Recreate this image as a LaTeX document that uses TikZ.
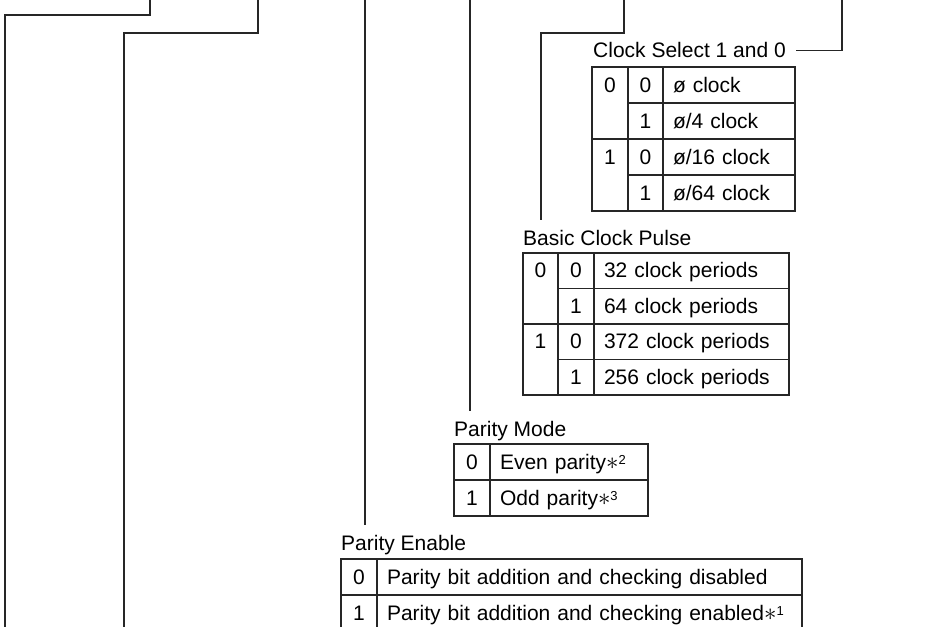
\documentclass[tikz,border=0pt]{standalone}
\usepackage{fontspec}
\setmainfont{Liberation Sans}
\usetikzlibrary{calc}
\definecolor{ink}{HTML}{262626}
\newcommand\noteref[1]{{\fontsize{25}{25}\selectfont$\ast$}\raisebox{4.5pt}{\fontsize{13}{13}\selectfont #1}}

\begin{document}
\begin{tikzpicture}[
  x=1pt, y=-1pt,
  font=\fontsize{21}{25}\selectfont,
  wire/.style={draw=ink, line width=1.1pt},
  lbl/.style={anchor=base west, inner sep=10pt},
  cell/.style={draw=ink, line width=1.1pt, anchor=north west,
               inner sep=0pt, outer sep=0pt, minimum height=36pt,
               text height=14pt, text depth=0pt},
  bit/.style={cell, minimum width=36pt},
  pairtop/.style={bit, minimum height=72pt, text height=25pt, text depth=47pt},
  desc/.style={cell, align=left, inner xsep=10pt, text width=#1},
]
\clip (0,0) rectangle (933,626);

% ---- Clock Select 1 and 0
\node[lbl] (cs-lbl) at (583,58) {Clock Select 1 and 0};
\node[pairtop] (cs-a) at (592,67) {0};
\node[bit, minimum width=35pt] (cs-a0) at (cs-a.north east) {0};
\node[desc=112pt] (cs-a0t) at (cs-a0.north east) {ø clock};
\node[bit, minimum width=35pt] (cs-a1) at (cs-a0.south west) {1};
\node[desc=112pt] (cs-a1t) at (cs-a1.north east) {ø/4 clock};
\node[pairtop] (cs-b) at (cs-a.south west) {1};
\node[bit, minimum width=35pt] (cs-b0) at (cs-b.north east) {0};
\node[desc=112pt] (cs-b0t) at (cs-b0.north east) {ø/16 clock};
\node[bit, minimum width=35pt] (cs-b1) at (cs-b0.south west) {1};
\node[desc=112pt] (cs-b1t) at (cs-b1.north east) {ø/64 clock};

% ---- Basic Clock Pulse
\node[lbl] (bcp-lbl) at (513,245) {Basic Clock Pulse};
\begin{scope}[cell/.append style={minimum height=35.5pt}]
\node[pairtop, minimum width=35pt, minimum height=71pt, text height=24.75pt, text depth=46.25pt] (bcp-a) at (523,253) {0};
\node[bit] (bcp-a0) at (bcp-a.north east) {0};
\node[desc=175pt] (bcp-a0t) at (bcp-a0.north east) {32 clock periods};
\node[bit] (bcp-a1) at (bcp-a0.south west) {1};
\node[desc=175pt] (bcp-a1t) at (bcp-a1.north east) {64 clock periods};
\node[pairtop, minimum width=35pt, minimum height=71pt, text height=24.75pt, text depth=46.25pt] (bcp-b) at (bcp-a.south west) {1};
\node[bit] (bcp-b0) at (bcp-b.north east) {0};
\node[desc=175pt] (bcp-b0t) at (bcp-b0.north east) {372 clock periods};
\node[bit] (bcp-b1) at (bcp-b0.south west) {1};
\node[desc=175pt] (bcp-b1t) at (bcp-b1.north east) {256 clock periods};
\end{scope}

% ---- Parity Mode
\node[lbl] (pm-lbl) at (444,436) {Parity Mode};
\node[bit] (pm-0) at (454,444) {0};
\node[desc=138pt] (pm-0t) at (pm-0.north east) {Even parity\noteref{2}};
\node[bit] (pm-1) at (pm-0.south west) {1};
\node[desc=138pt] (pm-1t) at (pm-1.north east) {Odd parity\noteref{3}};

% ---- Parity Enable
\node[lbl] (pe-lbl) at (331,550) {Parity Enable};
\node[bit] (pe-0) at (341,559) {0};
\node[desc=405pt] (pe-0t) at (pe-0.north east) {Parity bit addition and checking disabled};
\node[bit] (pe-1) at (pe-0.south west) {1};
\node[desc=405pt] (pe-1t) at (pe-1.north east) {Parity bit addition and checking enabled\noteref{1}};

% ---- Wires from the register bits
\coordinate (w1) at (150,-2);
\coordinate (w2) at (258,-2);
\coordinate (w3) at (365,-2);
\coordinate (w4) at (470,-2);
\coordinate (w5) at (624,-2);
\coordinate (w6) at (842,-2);
\coordinate (w1-end) at (5,628);
\coordinate (w2-end) at (124,628);

\draw[wire] (w1) -- ++(0,17) -| (w1-end);
\draw[wire] (w2) -- ++(0,35) -| (w2-end);
\draw[wire] (w3) -- (w3 |- pe-lbl.north);
\draw[wire] (w4) -- (w4 |- pm-lbl.north);
\draw[wire] (w5) -- ++(0,35) -| ([xshift=28pt]bcp-lbl.north west);
\draw[wire] (w6) |- (cs-lbl.east);

\end{tikzpicture}
\end{document}
